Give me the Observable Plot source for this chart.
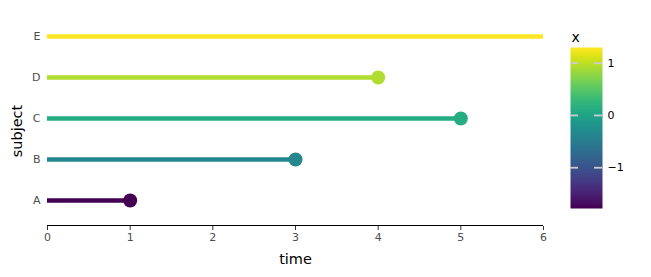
<!DOCTYPE html>
<html>
<head>
<meta charset="utf-8">
<script src="https://cdn.jsdelivr.net/npm/d3@7"></script>
<script src="https://cdn.jsdelivr.net/npm/@observablehq/plot@0.6"></script>
<style>
  html, body { margin: 0; padding: 0; background: #fff; }
  #wrap { display: flex; width: 651px; height: 277px; font-family: "DejaVu Sans", sans-serif; }
  svg { font-family: "DejaVu Sans", sans-serif; }
</style>
</head>
<body>
<div id="wrap"></div>
<script>
// Data
const subjects = ["A", "B", "C", "D", "E"];
const times = [1, 3, 5, 4, 6];
const xvals = [-1.78, -0.35, 0.12, 0.93, 1.30];
const events = [true, true, true, true, false];
const colorTicks = [-1, 0, 1];

const data = subjects.map((s, i) => ({subject: s, time: times[i], x: xvals[i], event: events[i]}));
const ext = d3.extent(xvals);
const colorOpts = {type: "linear", scheme: "viridis", domain: ext};

const W = 560, H = 277;
const main = Plot.plot({
  width: W, height: H,
  marginLeft: 47, marginRight: 17, marginTop: 35, marginBottom: 51,
  style: {fontFamily: "DejaVu Sans, sans-serif", fontSize: "11px", color: "#4d4d4d", background: "#fff"},
  x: {domain: [0, 6], ticks: [0,1,2,3,4,5,6]},
  y: {type: "point", domain: subjects, reverse: true, insetBottom: 25, padding: 0},
  color: colorOpts,
  marks: [
    Plot.ruleY(data, {y: "subject", x1: 0, x2: "time", stroke: "x", strokeWidth: 4.5}),
    Plot.dot(data.filter(d => d.event), {x: "time", y: "subject", fill: "x", r: 7, stroke: null}),
    Plot.ruleY([subjects[0]], {x1: 0, x2: 6, dy: 25, stroke: "#000", strokeWidth: 1.2}),
    Plot.axisX({tickSize: 4, tickPadding: 3, stroke: "#333", fill: "#4d4d4d", label: null}),
    Plot.axisY({tickSize: 0, tickPadding: 7, fill: "#4d4d4d", label: null}),
    Plot.text(["time"], {frameAnchor: "bottom", x: 3, dy: 37, fill: "#000", fontSize: 14.5, textAnchor: "middle"}),
    Plot.text(["subject"], {frameAnchor: "left", dx: -30, y: null, rotate: -90, fill: "#000", fontSize: 14.5, textAnchor: "middle"})
  ]
});

const bar = Plot.plot({
  width: 651 - W, height: H,
  marginLeft: 10, marginRight: 49, marginTop: 47, marginBottom: 69,
  style: {fontFamily: "DejaVu Sans, sans-serif", fontSize: "11px", color: "#4d4d4d", background: "#fff"},
  x: {domain: [0, 1], axis: null},
  y: {domain: ext},
  color: colorOpts,
  marks: [
    Plot.raster({fill: (x, y) => y, x1: 0, x2: 1, y1: ext[0], y2: ext[1], pixelSize: 1, interpolate: "none"}),
    Plot.ruleY(colorTicks, {x1: 0, x2: 0.25, stroke: "#cccccc", strokeWidth: 1.8}),
    Plot.ruleY(colorTicks, {x1: 0.75, x2: 1, stroke: "#cccccc", strokeWidth: 1.8}),
    Plot.axisY(colorTicks, {anchor: "right", tickSize: 0, tickPadding: 5, fill: "#000", label: null, tickFormat: d => d < 0 ? "\u2212" + Math.abs(d) : String(d)}),
    Plot.text(["x"], {x: 0, y: ext[1], dx: 1, dy: -6, lineAnchor: "bottom", fill: "#000", fontSize: 14, textAnchor: "start"})
  ]
});

document.getElementById("wrap").append(main, bar);
</script>
</body>
</html>
